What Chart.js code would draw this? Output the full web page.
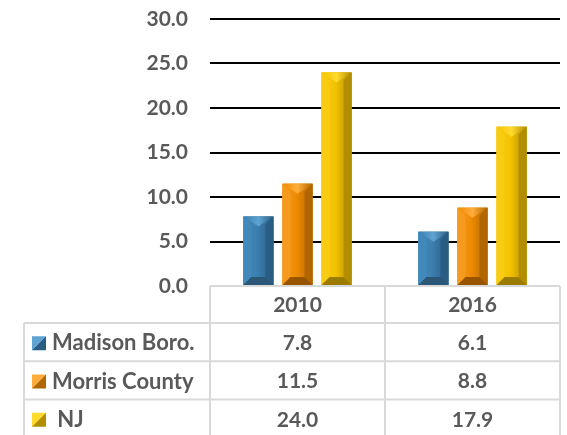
<!DOCTYPE html>
<html>
<head>
<meta charset="utf-8">
<script src="https://cdn.jsdelivr.net/npm/chart.js@4"></script>
<style>
  html, body { margin: 0; padding: 0; background: #fff; }
  #wrap { width: 567px; height: 435px; }
</style>
</head>
<body>
<div id="wrap"><canvas id="c" width="567" height="435"></canvas></div>
<script>
// data
const years = ['2010', '2016'];
const seriesNames = ['Madison Boro.', 'Morris County', ' NJ'];
const madison = [7.8, 6.1];
const morris = [11.5, 8.8];
const nj = [24.0, 17.9];
const yTicks = [0, 5, 10, 15, 20, 25, 30];

// bevel colours per series
const shades = [
  { face: '#3b7fae', top: '#5fa3d2', left: '#4289bb', right: '#2a5d83', bottom: '#2b5675' },
  { face: '#ef8b02', top: '#ffad3a', left: '#f69a1f', right: '#b26600', bottom: '#985500' },
  { face: '#f3c300', top: '#ffdb2e', left: '#f7cc12', right: '#b38d00', bottom: '#9c7c00' }
];

const textColor = '#595959';
const lineGray = '#d9d9d9';
const font = 'Lato, "Open Sans", sans-serif';

function poly(ctx, pts, fill) {
  ctx.beginPath();
  ctx.moveTo(pts[0][0], pts[0][1]);
  for (let i = 1; i < pts.length; i++) ctx.lineTo(pts[i][0], pts[i][1]);
  ctx.closePath();
  ctx.fillStyle = fill;
  ctx.fill();
}

// draws the beveled look over each bar
const bevelPlugin = {
  id: 'bevel',
  afterDatasetsDraw(chart) {
    const ctx = chart.ctx;
    ctx.save();
    chart.data.datasets.forEach((ds, di) => {
      const meta = chart.getDatasetMeta(di);
      const c = shades[di];
      meta.data.forEach((bar) => {
        const p = bar.getProps(['x', 'y', 'base', 'width'], true);
        const x0 = p.x - p.width / 2, x1 = p.x + p.width / 2;
        const y0 = p.y, y1 = p.base;
        const b = Math.min(8, (y1 - y0) / 2, p.width / 3);
        // face gradient
        const g = ctx.createLinearGradient(x0, 0, x1, 0);
        g.addColorStop(0, c.left);
        g.addColorStop(0.45, c.face);
        g.addColorStop(1, c.right);
        ctx.fillStyle = g;
        ctx.fillRect(x0, y0, x1 - x0, y1 - y0);
        poly(ctx, [[x0, y0], [x0 + b, y0 + b], [x0 + b, y1 - b], [x0, y1]], c.left);
        poly(ctx, [[x1, y0], [x1 - b, y0 + b], [x1 - b, y1 - b], [x1, y1]], c.right);
        const tg = ctx.createLinearGradient(x0, 0, x1, 0);
        tg.addColorStop(0, c.face);
        tg.addColorStop(0.5, c.top);
        tg.addColorStop(1, c.right);
        poly(ctx, [[x0, y0], [x1, y0], [p.x, y0 + b + 2]], tg);
        poly(ctx, [[x0, y1], [x1, y1], [x1 - b, y1 - b], [x0 + b, y1 - b]], c.bottom);
      });
    });
    ctx.restore();
  }
};

// data table under the plot
const tablePlugin = {
  id: 'dataTable',
  afterDraw(chart) {
    const ctx = chart.ctx;
    const xs = chart.scales.x;
    const area = chart.chartArea;
    const colW = (area.right - area.left) / years.length;
    const headTop = area.bottom;
    const headBot = headTop + 37;
    const rowH = 38.3;
    const leftX = 24;
    const bottom = chart.height + 5;
    const rows = [madison, morris, nj];

    ctx.save();
    ctx.strokeStyle = lineGray;
    ctx.lineWidth = 2;
    ctx.beginPath();
    // header top
    ctx.moveTo(area.left, headTop); ctx.lineTo(area.right, headTop);
    // column dividers
    for (let i = 0; i <= years.length; i++) {
      const x = area.left + i * colW;
      ctx.moveTo(x, headTop); ctx.lineTo(x, bottom);
    }
    ctx.moveTo(leftX, headBot); ctx.lineTo(leftX, bottom);
    for (let r = 0; r < rows.length; r++) {
      const y = headBot + r * rowH;
      ctx.moveTo(leftX, y); ctx.lineTo(area.right, y);
    }
    ctx.stroke();

    ctx.fillStyle = textColor;
    ctx.font = 'bold 21px ' + font;
    ctx.textBaseline = 'middle';
    ctx.textAlign = 'center';
    years.forEach((yr, i) => {
      ctx.fillText(yr, xs.getPixelForValue(i), (headTop + headBot) / 2 + 1);
    });
    rows.forEach((vals, r) => {
      const cy = headBot + r * rowH + rowH / 2 + 1;
      ctx.textAlign = 'center';
      ctx.fillStyle = textColor;
      ctx.font = 'bold 21px ' + font;
      vals.forEach((v, i) => {
        ctx.fillText(v.toFixed(1), xs.getPixelForValue(i), cy);
      });
      // legend key
      const c = shades[r];
      const kx = 32, ky = cy - 7, k = 14;
      poly(ctx, [[kx, ky], [kx + k, ky], [kx, ky + k]], c.top);
      poly(ctx, [[kx + k, ky], [kx + k, ky + k], [kx, ky + k]], c.right);
      ctx.textAlign = 'left';
      ctx.fillStyle = textColor;
      ctx.font = 'bold 22px ' + font;
      ctx.fillText(seriesNames[r], 52, cy);
    });
    ctx.restore();
  }
};

new Chart(document.getElementById('c'), {
  type: 'bar',
  data: {
    labels: years,
    datasets: [
      { label: seriesNames[0], data: madison, backgroundColor: shades[0].face },
      { label: seriesNames[1], data: morris, backgroundColor: shades[1].face },
      { label: seriesNames[2], data: nj, backgroundColor: shades[2].face }
    ]
  },
  options: {
    responsive: false,
    animation: false,
    devicePixelRatio: 1,
    layout: { padding: { top: 19, bottom: 149, left: 0, right: 7 } },
    datasets: { bar: { categoryPercentage: 0.67, barPercentage: 0.77 } },
    plugins: { legend: { display: false }, tooltip: { enabled: false } },
    scales: {
      x: { display: false },
      y: {
        min: yTicks[0],
        max: yTicks[yTicks.length - 1],
        afterFit(scale) { scale.width = 210; },
        afterBuildTicks(scale) { scale.ticks = yTicks.map(v => ({ value: v })); },
        border: { display: false },
        grid: {
          drawTicks: true,
          tickLength: 22,
          tickColor: 'rgba(0,0,0,0)',
          lineWidth: 2,
          color: (c) => (c.tick && c.tick.value === 0) ? 'rgba(0,0,0,0)' : '#000'
        },
        ticks: {
          padding: 0,
          color: textColor,
          font: { family: font, size: 21, weight: 'bold' },
          callback: (v) => Number(v).toFixed(1)
        }
      }
    }
  },
  plugins: [bevelPlugin, tablePlugin]
});
</script>
</body>
</html>
